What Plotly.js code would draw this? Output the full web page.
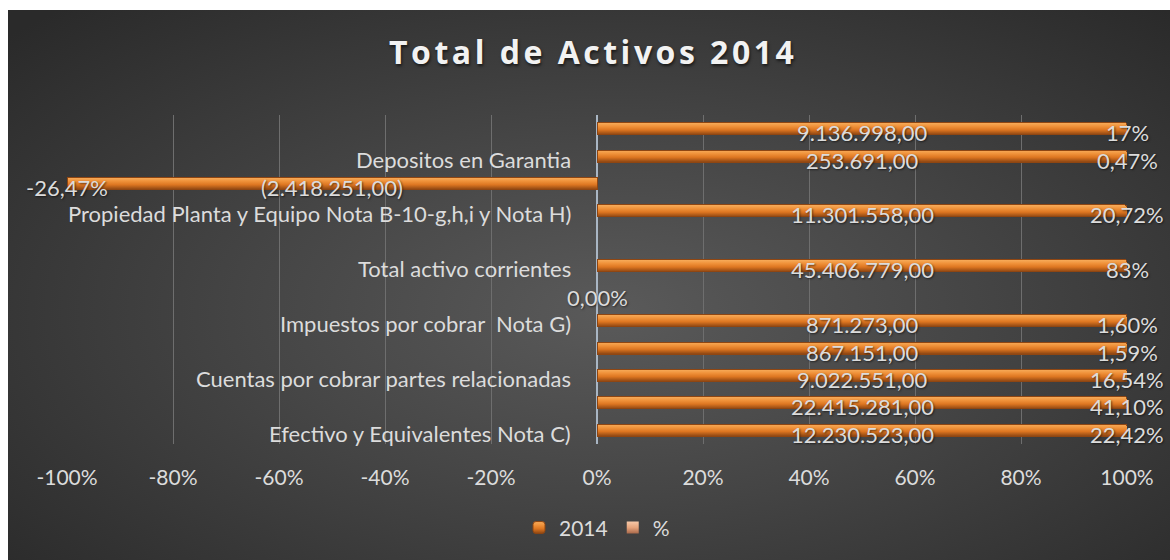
<!DOCTYPE html>
<html>
<head>
<meta charset="utf-8">
<script src="https://cdn.plot.ly/plotly-3.0.1.min.js"></script>
<style>
  html, body { margin: 0; padding: 0; background: #ffffff; }
  #bg { position: absolute; left: 8px; top: 10px; width: 1162px; height: 550px;
        background: radial-gradient(ellipse 70% 75% at 52% 55%, #5a5a5a 0%, #454545 45%, #2a2a2a 100%); }
  #chart { position: absolute; left: 0; top: 0; width: 1170px; height: 560px; }
</style>
</head>
<body>
<div id="bg"></div>
<div id="chart"></div>
<script>
// Categories, bottom to top (blank entries have no visible label in the original)
const categories = [
  'Efectivo y Equivalentes Nota C)',
  '',
  'Cuentas por cobrar partes relacionadas',
  '',
  'Impuestos por cobrar  Nota G)',
  '',
  'Total activo corrientes',
  '',
  'Propiedad Planta y Equipo Nota B-10-g,h,i y Nota H)',
  '',
  'Depositos en Garantia',
  ''
];
// Series "2014" (amounts)
const values2014 = [12230523, 22415281, 9022551, 867151, 871273, null,
                    45406779, null, 11301558, -2418251, 253691, 9136998];
// Series "%" (share of total assets, in percent)
const pctValues = [22.42, 41.10, 16.54, 1.59, 1.60, 0,
                   83, null, 20.72, -26.47, 0.47, 17];
// decimals shown in the % data labels
const pctDecimals = [2, 2, 2, 2, 2, 2, 0, null, 2, 2, 2, 0];
// x axis ticks (percent)
const xTicks = [-100, -80, -60, -40, -20, 0, 20, 40, 60, 80, 100];

const idx = categories.map((_, i) => i);

function fmtNum(v) {
  if (v == null) return '';
  const parts = Math.abs(v).toFixed(2).split('.');
  const intPart = parts[0].replace(/\B(?=(\d{3})+(?!\d))/g, '.');
  const s = intPart + ',' + parts[1];
  return v < 0 ? '(' + s + ')' : s;
}
function fmtPct(p, d) {
  if (p == null) return '';
  return p.toFixed(d).replace('.', ',') + '%';
}

const FONT = 'Lato, "Open Sans", sans-serif';
const TXT = '#dcdcdc';
const LBL = 22;
const SHADOW = '1px 1px 2px rgba(0,0,0,0.55)';

const trace2014 = {
  type: 'bar', orientation: 'h', name: '2014',
  x: values2014, y: idx,
  marker: { color: '#e6802a', line: { color: '#8f4612', width: 1 }, cornerradius: 2 },
  hoverinfo: 'skip'
};
const tracePct = {
  type: 'bar', orientation: 'h', name: '%',
  x: pctValues, y: idx,
  marker: { color: '#e6a47c', line: { width: 0 } },
  hoverinfo: 'skip'
};

// 100% stacked geometry, derived from the data
function share(v, p) {
  const a = Math.abs(v || 0), b = Math.abs(p || 0);
  return (a + b) === 0 ? 0 : a / (a + b) * 100;
}

const annotations = [];
categories.forEach((c, i) => {
  if (c !== '') annotations.push({
    x: 0, y: i, xref: 'x', yref: 'y', text: c,
    xanchor: 'right', yanchor: 'middle', xshift: -24, yshift: -3,
    showarrow: false, font: { family: FONT, size: LBL, color: TXT }
  });
});
values2014.forEach((v, i) => {
  if (v == null) return;
  const s = Math.sign(v);
  annotations.push({
    x: s * share(v, pctValues[i]) / 2, y: i, xref: 'x', yref: 'y',
    text: fmtNum(v), xanchor: 'center', yanchor: 'middle', yshift: -4,
    showarrow: false, font: { family: FONT, size: LBL, color: TXT, shadow: SHADOW }
  });
});
pctValues.forEach((p, i) => {
  if (p == null) return;
  const s = Math.sign(p);
  annotations.push({
    x: s * 100, y: i, xref: 'x', yref: 'y',
    text: fmtPct(p, pctDecimals[i]), xanchor: 'center', yanchor: 'middle', yshift: -4,
    showarrow: false, font: { family: FONT, size: LBL, color: TXT, shadow: SHADOW }
  });
});

const layout = {
  width: 1170, height: 560,
  paper_bgcolor: 'rgba(0,0,0,0)', plot_bgcolor: 'rgba(0,0,0,0)',
  margin: { l: 67, r: 43, t: 115, b: 116 },
  barmode: 'stack', barnorm: 'percent', bargap: 0.56,
  title: {
    text: '<span style="letter-spacing:3.5px">Total de Activos 2014</span>',
    x: 0.507, xanchor: 'center', y: 0.905, yanchor: 'middle',
    font: { family: '"Open Sans", Lato, sans-serif', size: 32, weight: 700, color: '#f2f2f2',
            shadow: '1px 2px 3px rgba(0,0,0,0.6)' }
  },
  xaxis: {
    range: [-100, 100], tickmode: 'array', tickvals: xTicks,
    ticktext: xTicks.map(v => v + '%'),
    showgrid: true, gridcolor: '#6e6e6e', gridwidth: 1,
    zeroline: true, zerolinecolor: '#a9b6c4', zerolinewidth: 2,
    showline: false, ticks: '', ticklabelstandoff: 19,
    tickfont: { family: FONT, size: 21, color: TXT },
    fixedrange: true
  },
  yaxis: {
    range: [-0.5, 11.5], showticklabels: false, showgrid: false,
    zeroline: false, showline: false, ticks: '', fixedrange: true
  },
  showlegend: true,
  legend: {
    orientation: 'h', x: 0.5, xanchor: 'center', y: -0.255, yanchor: 'middle',
    font: { family: FONT, size: 21, color: TXT },
    bgcolor: 'rgba(0,0,0,0)', itemwidth: 30, traceorder: 'normal'
  },
  annotations: annotations
};

Plotly.newPlot('chart', [trace2014, tracePct], layout, { displayModeBar: false, staticPlot: true })
.then(gd => {
  // give the bars the glossy vertical shading of the original style
  const svg = gd.querySelector('svg.main-svg');
  const defs = svg.querySelector('defs');
  const NS = 'http://www.w3.org/2000/svg';
  function addGrad(id, stops) {
    const g = document.createElementNS(NS, 'linearGradient');
    g.setAttribute('id', id);
    g.setAttribute('x1', '0'); g.setAttribute('y1', '0');
    g.setAttribute('x2', '0'); g.setAttribute('y2', '1');
    stops.forEach(([o, c]) => {
      const s = document.createElementNS(NS, 'stop');
      s.setAttribute('offset', o); s.setAttribute('stop-color', c);
      g.appendChild(s);
    });
    defs.appendChild(g);
  }
  addGrad('g2014', [['0', '#f7ad5c'], ['0.3', '#f0923a'], ['0.6', '#dd7621'], ['1', '#8c4512']]);
  addGrad('gPct', [['0', '#f6c8a8'], ['0.5', '#e6a47c'], ['1', '#a8684a']]);
  const traces = gd.querySelectorAll('.barlayer .trace');
  if (traces[0]) traces[0].querySelectorAll('path').forEach(p => { p.style.fill = 'url(#g2014)'; });
  if (traces[1]) traces[1].querySelectorAll('path').forEach(p => { p.style.fill = 'url(#gPct)'; });
  const legendPts = gd.querySelectorAll('.legend .traces');
  if (legendPts[0]) legendPts[0].querySelectorAll('.legendpoints path').forEach(p => { p.style.fill = 'url(#g2014)'; });
  if (legendPts[1]) legendPts[1].querySelectorAll('.legendpoints path').forEach(p => { p.style.fill = 'url(#gPct)'; });
});
</script>
</body>
</html>
